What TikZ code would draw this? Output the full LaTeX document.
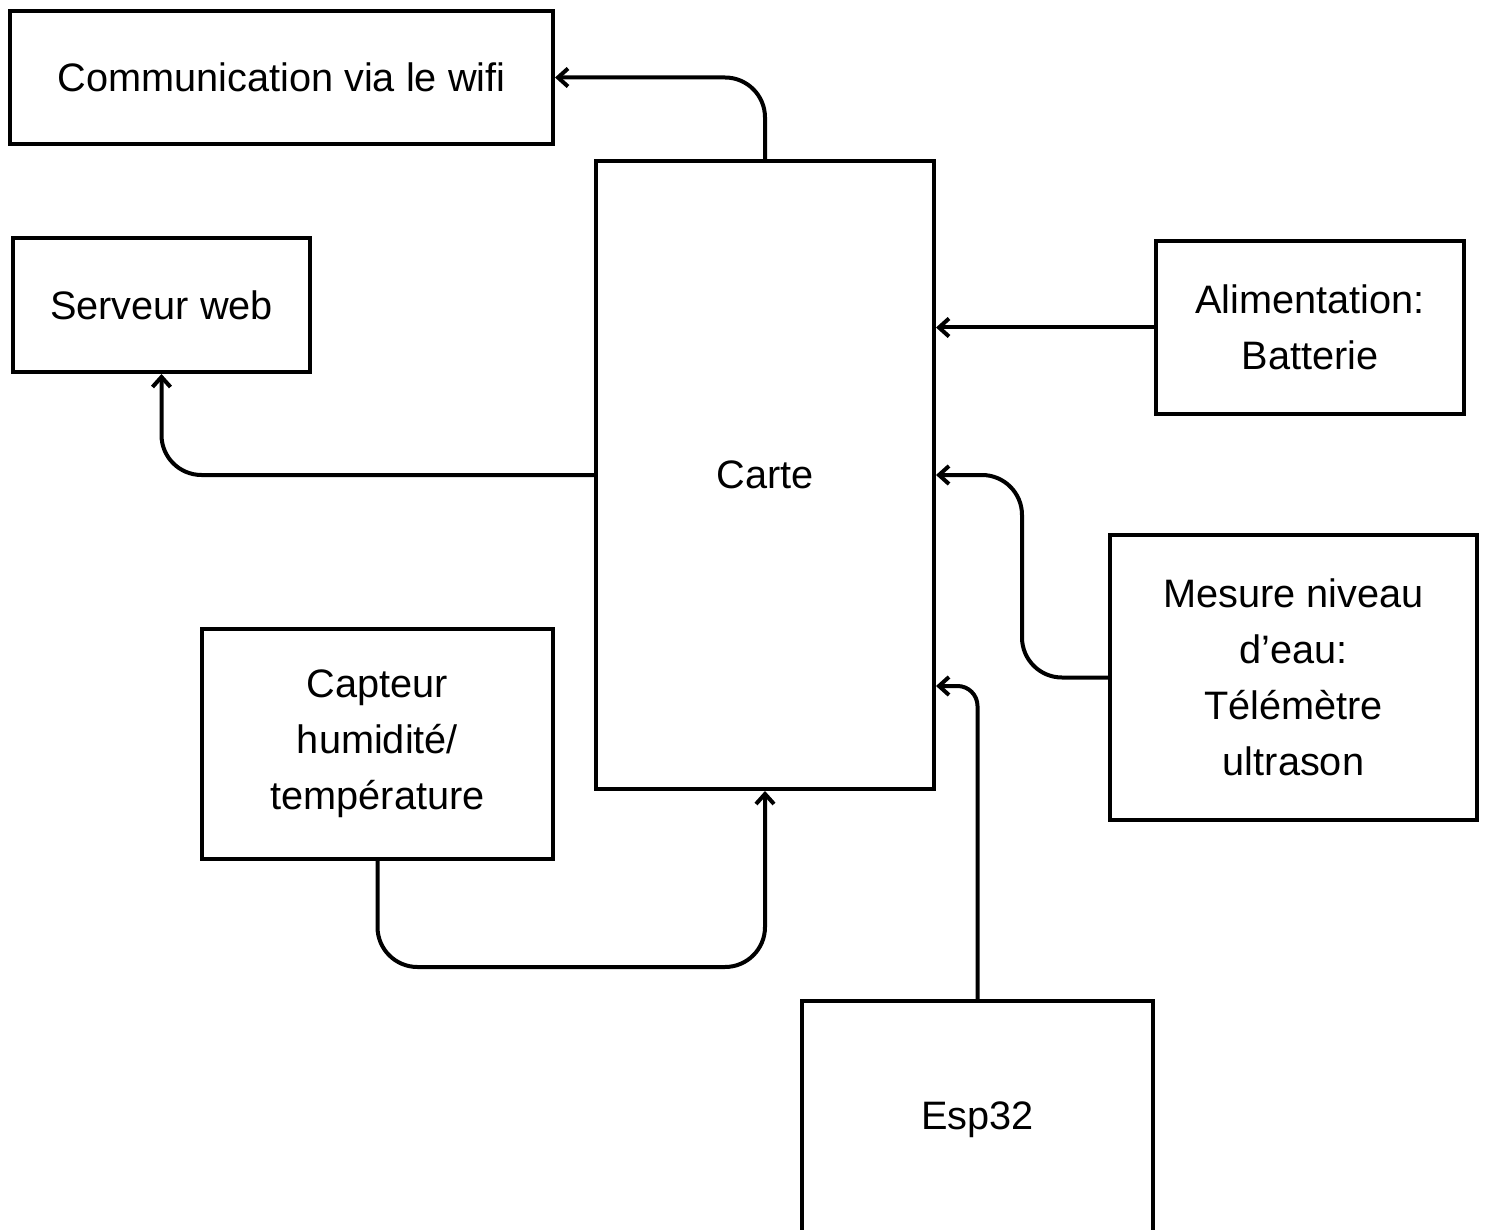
\documentclass[tikz,border=0pt]{standalone}
\usepackage{fontspec}
\setmainfont{Liberation Sans}
\usetikzlibrary{arrows.meta}
\begin{document}
\begin{tikzpicture}[x=1pt,y=-1pt,
  blk/.style={draw=black, line width=4pt, fill=white, align=center, inner sep=0pt,
    font=\fontsize{39.7}{56}\selectfont},
  link/.style={line width=4pt, rounded corners=40pt,
    -{Straight Barb[length=10pt,width=18pt,line width=4pt]}}]
  \useasboundingbox (0,0) rectangle (1488,1230);
  \clip (0,0) rectangle (1488,1230);

  % blocks
  \node[blk, minimum width=543pt, minimum height=133pt] (comm) at (281.5,77.5) {Communication via le wifi};
  \node[blk, minimum width=297pt, minimum height=134pt] (web) at (161.5,305) {Serveur web};
  \node[blk, minimum width=338pt, minimum height=628pt] (carte) at (765,475) {Carte};
  \node[blk, minimum width=308pt, minimum height=173pt] (alim) at (1310,327.5) {Alimentation:\\Batterie};
  \node[blk, minimum width=367pt, minimum height=285pt] (mesure) at (1293.5,677.5) {Mesure niveau\\d’eau:\\Télémètre\\ultrason};
  \node[blk, minimum width=351pt, minimum height=230pt] (capteur) at (377.5,744) {Capteur\\humidité/\\température};
  \node[blk, minimum width=351pt, minimum height=238pt] (esp) at (977.5,1120) {Esp32};

  % connectors
  \coordinate (mbend) at (1022,0);
  \draw[link] (carte.north) |- (comm.east);
  \draw[link] (carte.west) -| (web.south);
  \draw[link] (alim.west) -- (alim.west -| carte.east);
  \draw[link] (mesure.west) -- (mesure.west -| mbend) |- (carte.east);
  \draw[link, rounded corners=20pt] (esp.north) |- ([yshift=-211pt]carte.east);
  \draw[link] (capteur.south) -- ++(0,106) -| (carte.south);
\end{tikzpicture}
\end{document}
